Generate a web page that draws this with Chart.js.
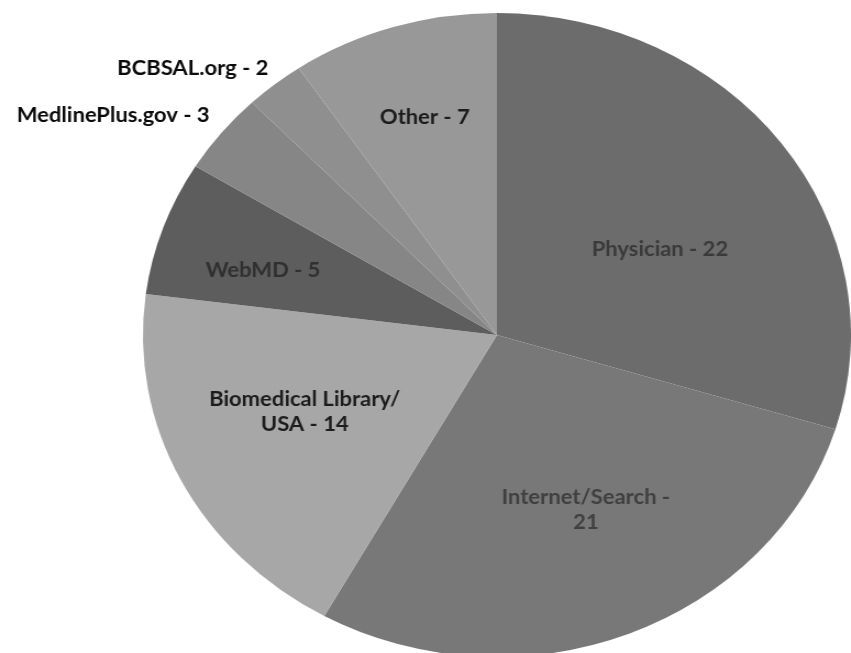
<!DOCTYPE html>
<html>
<head>
<meta charset="utf-8">
<script src="https://cdn.jsdelivr.net/npm/chart.js@4.4.1/dist/chart.umd.min.js"></script>
<style>
  html, body { margin: 0; padding: 0; background: #ffffff; overflow: hidden; }
  #wrap { position: relative; width: 851px; height: 653px; overflow: hidden; background: #ffffff; }
  #c { position: absolute; left: 0; top: 0; transform: scaleX(1.0994); transform-origin: 0 0; }
</style>
</head>
<body>
<div id="wrap"><canvas id="c" width="774" height="653"></canvas></div>
<script>
// ---- data ----
const categories = ["Physician", "Internet/Search", "Biomedical Library/USA", "WebMD", "MedlinePlus.gov", "BCBSAL.org", "Other"];
const counts = [22, 21, 14, 5, 3, 2, 7];
const labelLines = [
  ["Physician - 22"],
  ["Internet/Search -", "21"],
  ["Biomedical Library/", "USA - 14"],
  ["WebMD - 5"],
  ["MedlinePlus.gov - 3"],
  ["BCBSAL.org - 2"],
  ["Other - 7"]
];

// ---- styling ----
const sliceColors = ["#6c6c6c", "#787878", "#a7a7a7", "#5d5d5d", "#868686", "#8f8f8f", "#989898"];
const textColors  = ["#3a3a3a", "#404040", "#1c1c1c", "#303030", "#0a0a0a", "#0a0a0a", "#1c1c1c"];
// label placement: fraction of radius along slice mid-angle, plus angle offset in degrees
const labelFrac   = [0.532, 0.599, 0.593, 0.691, 1.280, 1.192, 0.704];
const labelDAngle = [6.4, -2.9, 3.0, -2.5, -6.8, -7.2, 0.2];

const labelPlugin = {
  id: 'sliceLabels',
  afterDatasetsDraw(chart) {
    const ctx = chart.ctx;
    const meta = chart.getDatasetMeta(0);
    ctx.save();
    ctx.font = "bold 20px Lato, 'Liberation Sans', sans-serif";
    ctx.textAlign = 'center';
    ctx.textBaseline = 'middle';
    const lineH = 25;
    meta.data.forEach((arc, i) => {
      const p = arc.getProps(['x', 'y', 'startAngle', 'endAngle', 'outerRadius'], true);
      const mid = (p.startAngle + p.endAngle) / 2 + labelDAngle[i] * Math.PI / 180;
      const r = p.outerRadius * labelFrac[i];
      const cx = p.x + Math.cos(mid) * r;
      const cy = p.y + Math.sin(mid) * r;
      const lines = labelLines[i];
      ctx.fillStyle = textColors[i];
      lines.forEach((t, k) => {
        ctx.fillText(t, cx, cy + (k - (lines.length - 1) / 2) * lineH);
      });
    });
    ctx.restore();
  }
};

new Chart(document.getElementById('c'), {
  type: 'pie',
  data: {
    labels: categories,
    datasets: [{
      data: counts,
      backgroundColor: sliceColors,
      borderWidth: 0
    }]
  },
  options: {
    responsive: false,
    animation: false,
    radius: 322,
    layout: { padding: { left: 130, right: 0, top: 17, bottom: 0 } },
    plugins: {
      legend: { display: false },
      tooltip: { enabled: false },
      title: { display: false }
    }
  },
  plugins: [labelPlugin]
});
</script>
</body>
</html>
